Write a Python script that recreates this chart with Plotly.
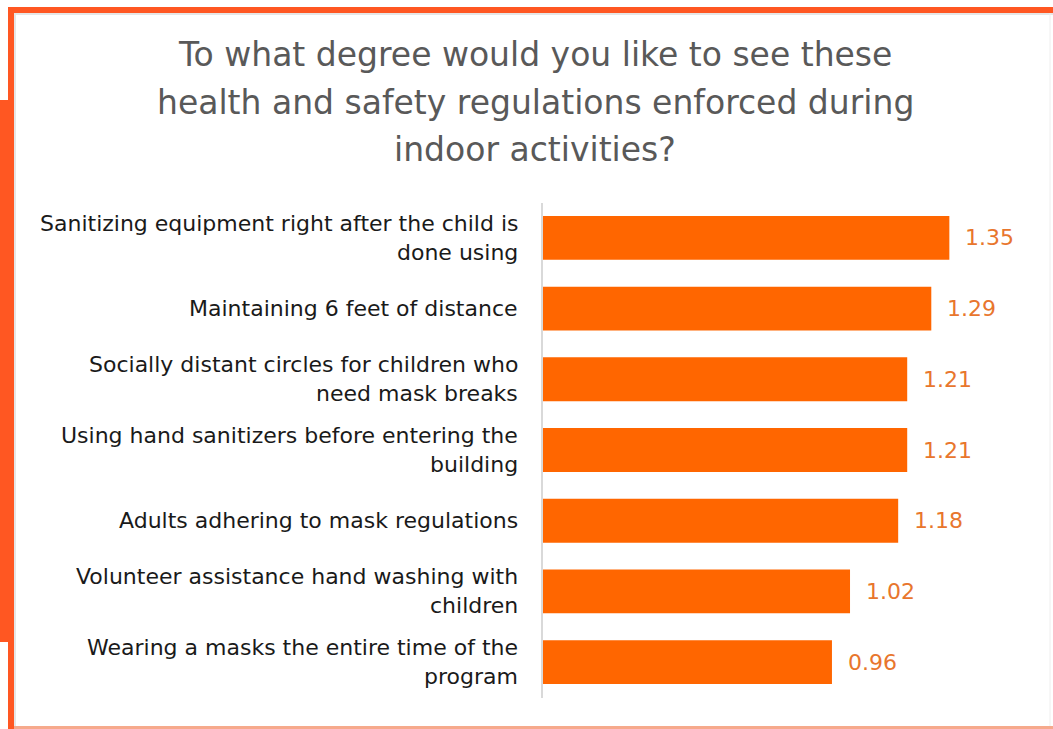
import plotly.graph_objects as go

W, H = 1053, 729

title_lines = [
    "To what degree would you like to see these",
    "health and safety regulations enforced during",
    "indoor activities?",
]

categories = [
    "Sanitizing equipment right after the child is done using",
    "Maintaining 6 feet of distance",
    "Socially distant circles for children who need mask breaks",
    "Using hand sanitizers before entering the building",
    "Adults adhering to mask regulations",
    "Volunteer assistance hand washing with children",
    "Wearing a masks the entire time of the program",
]
label_lines = [
    ["Sanitizing equipment right after the child is", "done using"],
    ["Maintaining 6 feet of distance"],
    ["Socially distant circles for children who", "need mask breaks"],
    ["Using hand sanitizers before entering the", "building"],
    ["Adults adhering to mask regulations"],
    ["Volunteer assistance hand washing with", "children"],
    ["Wearing a masks the entire time of the", "program"],
]
values = [1.35, 1.29, 1.21, 1.21, 1.18, 1.02, 0.96]

BAR = "#FF6600"
VAL = "#E8762D"
TXT = "#1A1A1A"
TITLE = "#595959"
EDGE = "#FF5722"
FONT = "DejaVu Sans"


def px(x):
    return x / W


def py(y):
    return 1 - y / H


fig = go.Figure(
    go.Bar(
        x=values,
        y=categories,
        orientation="h",
        marker=dict(color=BAR, line=dict(width=0)),
        width=0.62,
        hoverinfo="skip",
    )
)

annotations = []
# title, one annotation per line
for i, line in enumerate(title_lines):
    annotations.append(dict(
        text=line, xref="paper", yref="paper", x=px(535), y=py(55 + 47.5 * i),
        xanchor="center", yanchor="middle", showarrow=False,
        font=dict(family=FONT, size=33, color=TITLE),
    ))

# category labels, right aligned next to the axis
for cat, lines in zip(categories, label_lines):
    n = len(lines)
    for j, line in enumerate(lines):
        shift = (n - 1) * 14.5 - j * 29
        annotations.append(dict(
            text=line, xref="paper", yref="y", x=px(520), y=cat,
            xanchor="right", yanchor="middle", yshift=shift, showarrow=False,
            font=dict(family=FONT, size=22, color=TXT),
        ))

# value labels after each bar
for cat, v in zip(categories, values):
    annotations.append(dict(
        text=f"{v:.2f}", xref="x", yref="y", x=v, y=cat,
        xanchor="left", yanchor="middle", xshift=14, showarrow=False,
        font=dict(family=FONT, size=22, color=VAL),
    ))

shapes = [
    # frame: top and left orange edges, side tab, bottom edge
    dict(type="rect", xref="paper", yref="paper", x0=px(8), x1=px(W + 5), y0=py(13), y1=py(7),
         fillcolor=EDGE, line=dict(width=0), layer="above"),
    dict(type="rect", xref="paper", yref="paper", x0=px(8), x1=px(14), y0=py(H + 5), y1=py(7),
         fillcolor=EDGE, line=dict(width=0), layer="above"),
    dict(type="rect", xref="paper", yref="paper", x0=px(-5), x1=px(14), y0=py(642), y1=py(100),
         fillcolor=EDGE, line=dict(width=0), layer="above"),
    dict(type="rect", xref="paper", yref="paper", x0=px(14), x1=px(W + 5), y0=py(H + 5), y1=py(726),
         fillcolor="#F6A98C", line=dict(width=0), layer="above"),
    # faint inner shadow
    dict(type="rect", xref="paper", yref="paper", x0=px(14), x1=px(W + 5), y0=py(15), y1=py(13),
         fillcolor="#E6E6E6", line=dict(width=0), layer="above"),
    dict(type="rect", xref="paper", yref="paper", x0=px(14), x1=px(16), y0=py(726), y1=py(13),
         fillcolor="#E6E6E6", line=dict(width=0), layer="above"),
    dict(type="line", xref="paper", yref="paper", x0=px(1050), x1=px(1050), y0=py(726), y1=py(13),
         line=dict(color="#EEEEEE", width=1), layer="above"),
]

x_max = 1.6
scale = 301  # pixels per unit
fig.update_layout(
    width=W, height=H,
    margin=dict(l=0, r=0, t=0, b=0),
    paper_bgcolor="white", plot_bgcolor="white",
    showlegend=False,
    xaxis=dict(
        domain=[px(543), px(543 + scale * x_max)], range=[0, x_max],
        showgrid=False, zeroline=False, showticklabels=False, showline=False, ticks="",
    ),
    yaxis=dict(
        domain=[py(697.5), py(202.5)],
        categoryorder="array", categoryarray=categories, autorange="reversed",
        showgrid=False, zeroline=False, showticklabels=False, ticks="",
        showline=True, linecolor="#D9D9D9", linewidth=1.5,
    ),
    annotations=annotations,
    shapes=shapes,
)

fig.write_html("out.html")
